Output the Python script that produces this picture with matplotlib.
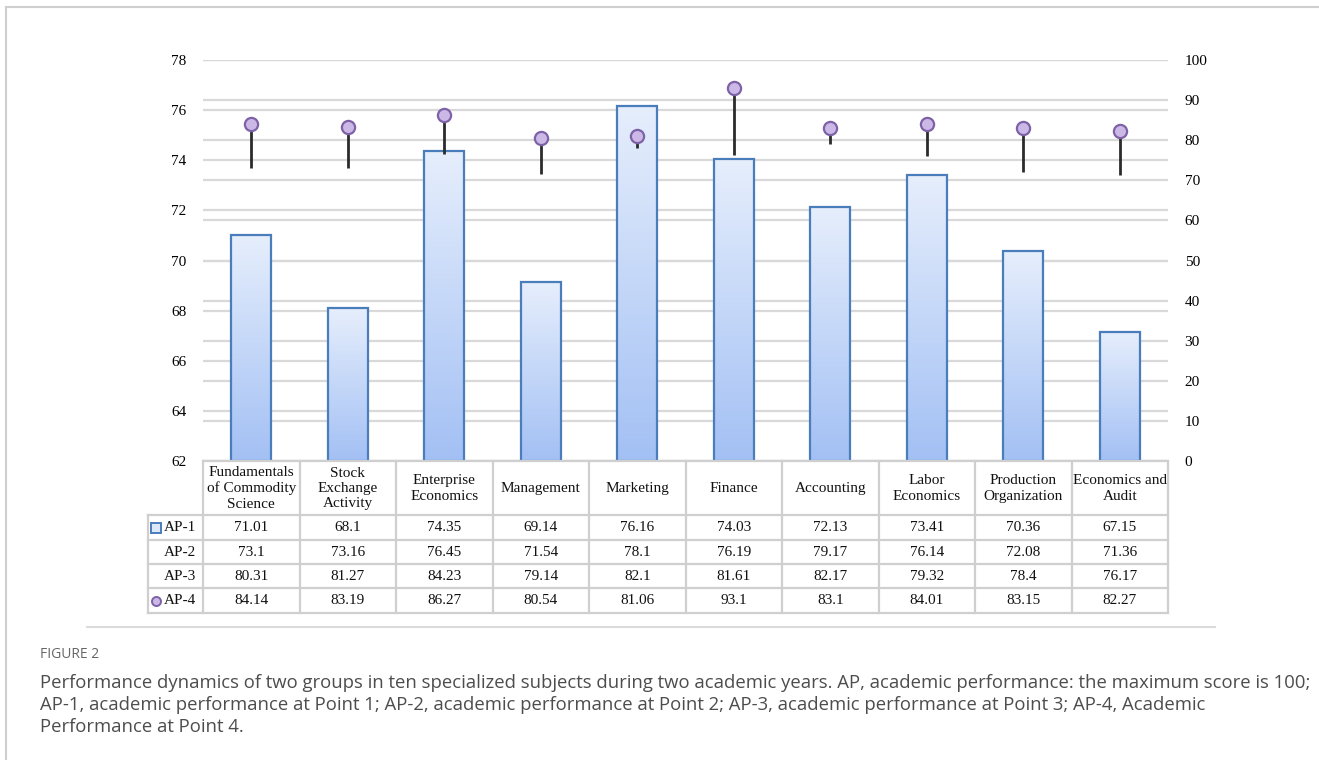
import matplotlib
matplotlib.use('Agg')
import matplotlib.pyplot as plt
import numpy as np
from matplotlib.colors import LinearSegmentedColormap
from matplotlib.lines import Line2D

subjects = ['Fundamentals\nof Commodity\nScience', 'Stock\nExchange\nActivity',
            'Enterprise\nEconomics', 'Management', 'Marketing', 'Finance',
            'Accounting', 'Labor\nEconomics', 'Production\nOrganization',
            'Economics and\nAudit']
ap1 = [71.01, 68.1, 74.35, 69.14, 76.16, 74.03, 72.13, 73.41, 70.36, 67.15]
ap2 = [73.1, 73.16, 76.45, 71.54, 78.1, 76.19, 79.17, 76.14, 72.08, 71.36]
ap3 = [80.31, 81.27, 84.23, 79.14, 82.1, 81.61, 82.17, 79.32, 78.4, 76.17]
ap4 = [84.14, 83.19, 86.27, 80.54, 81.06, 93.1, 83.1, 84.01, 83.15, 82.27]
row_names = ['AP-1', 'AP-2', 'AP-3', 'AP-4']
left_ticks = [62, 64, 66, 68, 70, 72, 74, 76, 78]
right_ticks = [0, 10, 20, 30, 40, 50, 60, 70, 80, 90, 100]

W, H = 1319, 760
SERIF = 'Liberation Serif'
FS = 11
GRID = '#d9d9d9'
BAR_EDGE = '#4a7dbb'
MK_FACE = '#cbb8e6'
MK_EDGE = '#7e62a8'

fig = plt.figure(figsize=(W / 100, H / 100), dpi=100)

# frame lines of the figure panel
fig.add_artist(Line2D([6 / W, 1], [1 - 7 / H, 1 - 7 / H], color='#cfcfcf', lw=1.5))
fig.add_artist(Line2D([6 / W, 6 / W], [0, 1 - 7 / H], color='#cfcfcf', lw=1.5))
fig.add_artist(Line2D([87 / W, 1215 / W], [1 - 627 / H, 1 - 627 / H], color='#dcdcdc', lw=1.5))

# main chart area (pixels: x 203-1168, y 60-461)
x0, x1, ytop, ybot = 203, 1168, 60, 461
ax = fig.add_axes([x0 / W, 1 - ybot / H, (x1 - x0) / W, (ybot - ytop) / H])
ax2 = ax.twinx()

n = len(ap1)
x = np.arange(n)
ax.set_xlim(-0.5, n - 0.5)
ax.set_ylim(62, 78)
ax2.set_ylim(0, 100)

for a in (ax, ax2):
    for s in a.spines.values():
        s.set_visible(False)
    a.tick_params(length=0)
    a.set_xticks([])
ax.set_yticks(left_ticks)
ax.set_yticklabels([str(t) for t in left_ticks], fontfamily=SERIF, fontsize=FS)
ax2.set_yticks(right_ticks)
ax2.set_yticklabels([str(t) for t in right_ticks], fontfamily=SERIF, fontsize=FS)
ax.tick_params(axis='y', pad=12)
ax2.tick_params(axis='y', pad=12)

# gridlines for both axes, behind the bars
for t in left_ticks:
    ax.add_line(Line2D([0, 1], [t, t], transform=ax.get_yaxis_transform(),
                       color=GRID, lw=1.6, zorder=0.5))
for t in right_ticks:
    ax.add_line(Line2D([0, 1], [t, t], transform=ax2.get_yaxis_transform(),
                       color=GRID, lw=1.6, zorder=0.5))

# gradient bars (AP-1)
cmap = LinearSegmentedColormap.from_list('barfill', ['#a3c0f4', '#c4d7f8', '#e6eefc'])
grad = np.linspace(0, 1, 256).reshape(-1, 1)
bw = 0.41
for xi, v in zip(x, ap1):
    ax.imshow(grad, extent=[xi - bw / 2, xi + bw / 2, 62, v], origin='lower',
              cmap=cmap, aspect='auto', zorder=1, interpolation='bicubic')
ax.bar(x, [v - 62 for v in ap1], bottom=62, width=bw, facecolor='none',
       edgecolor=BAR_EDGE, linewidth=1.6, zorder=2)
ax.set_xlim(-0.5, n - 0.5)
ax.set_ylim(62, 78)

# high-low lines (AP-2..AP-4) and AP-4 markers on right axis
lows = [min(a, b, c) for a, b, c in zip(ap2, ap3, ap4)]
highs = [max(a, b, c) for a, b, c in zip(ap2, ap3, ap4)]
ax2.vlines(x, lows, highs, color='#2b2b2b', lw=2.0, zorder=3)
ax2.plot(x, ap4, linestyle='none', marker='o', markersize=9.5,
         markerfacecolor=MK_FACE, markeredgecolor=MK_EDGE, markeredgewidth=1.6, zorder=4)

# data table below chart
tl, tb = 148, 613
tax = fig.add_axes([tl / W, 1 - tb / H, (x1 - tl) / W, (tb - ybot) / H])
col_w = (x1 - x0) / n
lab_w = (x0 - tl) / col_w
tax.set_xlim(-0.5 - lab_w, n - 0.5)
tax.set_ylim(tb, ybot)
tax.axis('off')
row_edges = [461, 515, 540, 564, 588, 613]
TCOL = '#cfcfcf'
# horizontal lines
tax.plot([-0.5, n - 0.5], [row_edges[0]] * 2, color=TCOL, lw=1.6, clip_on=False)
for ry in row_edges[1:]:
    tax.plot([-0.5 - lab_w, n - 0.5], [ry, ry], color=TCOL, lw=1.6, clip_on=False)
# vertical lines
tax.plot([-0.5 - lab_w] * 2, [row_edges[1], row_edges[-1]], color=TCOL, lw=1.6, clip_on=False)
for k in range(n + 1):
    tax.plot([k - 0.5] * 2, [row_edges[0], row_edges[-1]], color=TCOL, lw=1.6, clip_on=False)

for k, name in enumerate(subjects):
    tax.text(k, (row_edges[0] + row_edges[1]) / 2 + 0.5, name, ha='center', va='center',
             fontfamily=SERIF, fontsize=FS, linespacing=1.22, color='#111111')

rows = [ap1, ap2, ap3, ap4]
for r, (lab, vals) in enumerate(zip(row_names, rows)):
    yc = (row_edges[r + 1] + row_edges[r + 2]) / 2
    tax.text(-0.5 - 0.07, yc, lab, ha='right', va='center', fontfamily=SERIF,
             fontsize=FS, color='#111111')
    for k, v in enumerate(vals):
        tax.text(k, yc, f'{v:g}', ha='center', va='center', fontfamily=SERIF,
                 fontsize=FS, color='#111111')

# legend keys in table row labels
yc1 = (row_edges[1] + row_edges[2]) / 2
yc4 = (row_edges[4] + row_edges[5]) / 2
tax.plot([-0.5 - lab_w + 0.085], [yc1], marker='s', markersize=7, markerfacecolor='#dce7fa',
         markeredgecolor=BAR_EDGE, markeredgewidth=1.4, clip_on=False)
tax.plot([-0.5 - lab_w + 0.085], [yc4], marker='o', markersize=6.5, markerfacecolor=MK_FACE,
         markeredgecolor=MK_EDGE, markeredgewidth=1.4, clip_on=False)

# caption
CAP = 'Open Sans'
fig.text(40 / W, 1 - 655 / H, 'FIGURE 2', fontfamily=CAP, fontsize=10, color='#666666',
         va='center', ha='left')
caption = ('Performance dynamics of two groups in ten specialized subjects during two academic years. '
           'AP, academic performance: the maximum score is 100;\n'
           'AP-1, academic performance at Point 1; AP-2, academic performance at Point 2; '
           'AP-3, academic performance at Point 3; AP-4, Academic\n'
           'Performance at Point 4.')
fig.text(40 / W, 1 - 674 / H, caption, fontfamily=CAP, fontsize=13.3, color='#4d4d4d',
         va='top', ha='left', linespacing=1.3)

fig.savefig('out.png', dpi=100)
